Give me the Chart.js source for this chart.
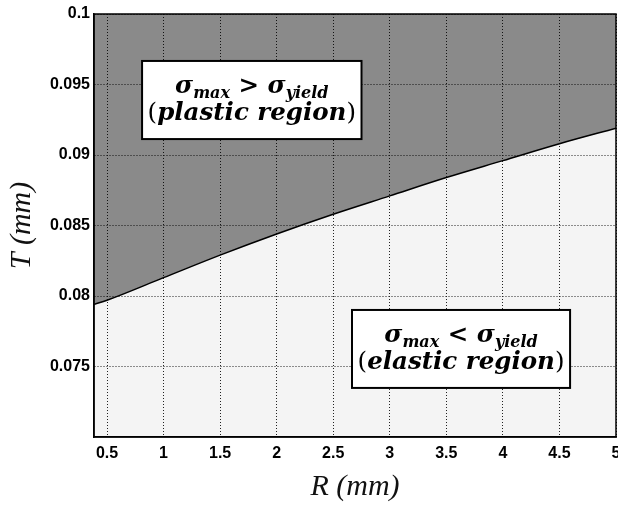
<!DOCTYPE html>
<html>
<head>
<meta charset="utf-8">
<script src="https://cdn.jsdelivr.net/npm/chart.js@4.4.0/dist/chart.umd.min.js"></script>
<style>
html, body { margin: 0; padding: 0; background: #fff; }
#wrap { width: 618px; height: 507px; }
</style>
</head>
<body>
<div id="wrap"><canvas id="myChart"></canvas></div>
<script>
// Raio R (mm) e espessura limite T (mm)
const radius = [0.385, 0.5, 1, 1.5, 2, 2.5, 3, 3.5, 4, 4.5, 5];
const thickness = [0.0794, 0.0797, 0.0813, 0.0829, 0.0844, 0.0858, 0.0871, 0.0884, 0.0896, 0.0908, 0.0919];
const xTicks = [0.5, 1, 1.5, 2, 2.5, 3, 3.5, 4, 4.5, 5];
const yTicks = [0.075, 0.08, 0.085, 0.09, 0.095, 0.1];

// Caixas de texto das regiões (posição em unidades dos eixos)
const regionBoxes = [
    { x0: 0.81, x1: 2.75, y0: 0.09667, y1: 0.09113, rel: '>', word: 'plastic region' },
    { x0: 2.666, x1: 4.594, y0: 0.07901, y1: 0.07348, rel: '<', word: 'elastic region' }
];

const serif = '"DejaVu Serif"';

function drawRuns(ctx, runs, cx, baseline) {
    let total = 0;
    runs.forEach(r => { ctx.font = r.font; r.w = ctx.measureText(r.t).width; total += r.w; });
    let x = cx - total / 2;
    runs.forEach(r => {
        ctx.font = r.font;
        ctx.fillText(r.t, x, baseline + (r.dy || 0));
        x += r.w;
    });
}

const plotBackground = {
    id: 'plotBackground',
    beforeDraw(chart) {
        const a = chart.chartArea;
        const c = chart.ctx;
        c.save();
        c.fillStyle = '#f4f4f4';
        c.fillRect(a.left, a.top, a.right - a.left, a.bottom - a.top);
        c.restore();
    }
};

const frameAndBoxes = {
    id: 'frameAndBoxes',
    afterDraw(chart) {
        const a = chart.chartArea;
        const c = chart.ctx;
        const xs = chart.scales.x, ys = chart.scales.y;
        c.save();
        c.strokeStyle = '#000';
        c.lineWidth = 1.5;
        c.strokeRect(a.left, a.top, a.right - a.left, a.bottom - a.top);

        const big = 24.5, small = 16;
        const main = `italic bold ${big}px ${serif}`;
        const sub = `italic bold ${small}px ${serif}`;
        const op = `bold ${big}px ${serif}`;
        const paren = `${big}px ${serif}`;
        regionBoxes.forEach(b => {
            const l = xs.getPixelForValue(b.x0), r = xs.getPixelForValue(b.x1);
            const t = ys.getPixelForValue(b.y0), btm = ys.getPixelForValue(b.y1);
            c.fillStyle = '#fff';
            c.fillRect(l, t, r - l, btm - t);
            c.lineWidth = 2;
            c.strokeStyle = '#000';
            c.strokeRect(l, t, r - l, btm - t);
            c.fillStyle = '#000';
            c.textBaseline = 'alphabetic';
            const cx = (l + r) / 2;
            drawRuns(c, [
                { t: 'σ', font: main },
                { t: 'max', font: sub, dy: 5 },
                { t: ' ' + b.rel + ' ', font: op },
                { t: 'σ', font: main },
                { t: 'yield', font: sub, dy: 5 }
            ], cx, t + 32);
            drawRuns(c, [
                { t: '(', font: paren },
                { t: b.word, font: main },
                { t: ')', font: paren }
            ], cx, t + 59);
        });
        c.restore();
    }
};

function fixBox(size) {
    return function (scale) {
        if (size.w) scale.width = size.w;
        if (size.h) scale.height = size.h;
        scale.paddingLeft = 0;
        scale.paddingRight = 0;
        scale.paddingTop = 0;
        scale.paddingBottom = 0;
    };
}

const tickFont = { family: '"Liberation Sans"', size: 16, weight: 'bold' };
const titleFont = { family: '"Liberation Serif"', size: 30, style: 'italic' };

const ctx = document.getElementById('myChart').getContext('2d');
const myChart = new Chart(ctx, {
    type: 'line',
    data: {
        datasets: [{
            label: 'T',
            data: radius.map((r, i) => ({ x: r, y: thickness[i] })),
            borderColor: '#000',
            borderWidth: 1.5,
            // cinza translúcido: deixa a grade pontilhada aparecer por baixo
            backgroundColor: 'rgba(0, 0, 0, 0.435)',
            fill: 'end',
            pointRadius: 0,
            cubicInterpolationMode: 'monotone'
        }]
    },
    options: {
        responsive: true,
        maintainAspectRatio: false,
        animation: false,
        layout: { padding: { top: 14, right: 2, left: 0, bottom: 0 } },
        plugins: {
            legend: { display: false },
            tooltip: { enabled: false }
        },
        scales: {
            x: {
                type: 'linear',
                min: 0.385,
                max: 5,
                afterBuildTicks: s => { s.ticks = xTicks.map(v => ({ value: v })); },
                afterFit: fixBox({ h: 70 }),
                ticks: { font: tickFont, color: '#000', padding: 7, maxRotation: 0, callback: v => String(v) },
                grid: { color: '#222', lineWidth: 1, drawTicks: false },
                border: { display: true, color: '#000', width: 1.5, dash: [1, 2] },
                title: { display: true, text: 'R (mm)', font: titleFont, color: '#111', padding: { top: 0, bottom: 2 } }
            },
            y: {
                min: 0.07,
                max: 0.1,
                afterBuildTicks: s => { s.ticks = yTicks.map(v => ({ value: v })); },
                afterFit: fixBox({ w: 94 }),
                ticks: { font: tickFont, color: '#000', padding: 4, callback: v => String(+v.toFixed(3)) },
                grid: { color: '#222', lineWidth: 1, drawTicks: false },
                border: { display: true, color: '#000', width: 1.5, dash: [1, 2] },
                title: { display: true, text: 'T (mm)', font: titleFont, color: '#111', padding: { top: 4, bottom: 0 } }
            }
        }
    },
    plugins: [plotBackground, frameAndBoxes]
});
</script>
</body>
</html>
